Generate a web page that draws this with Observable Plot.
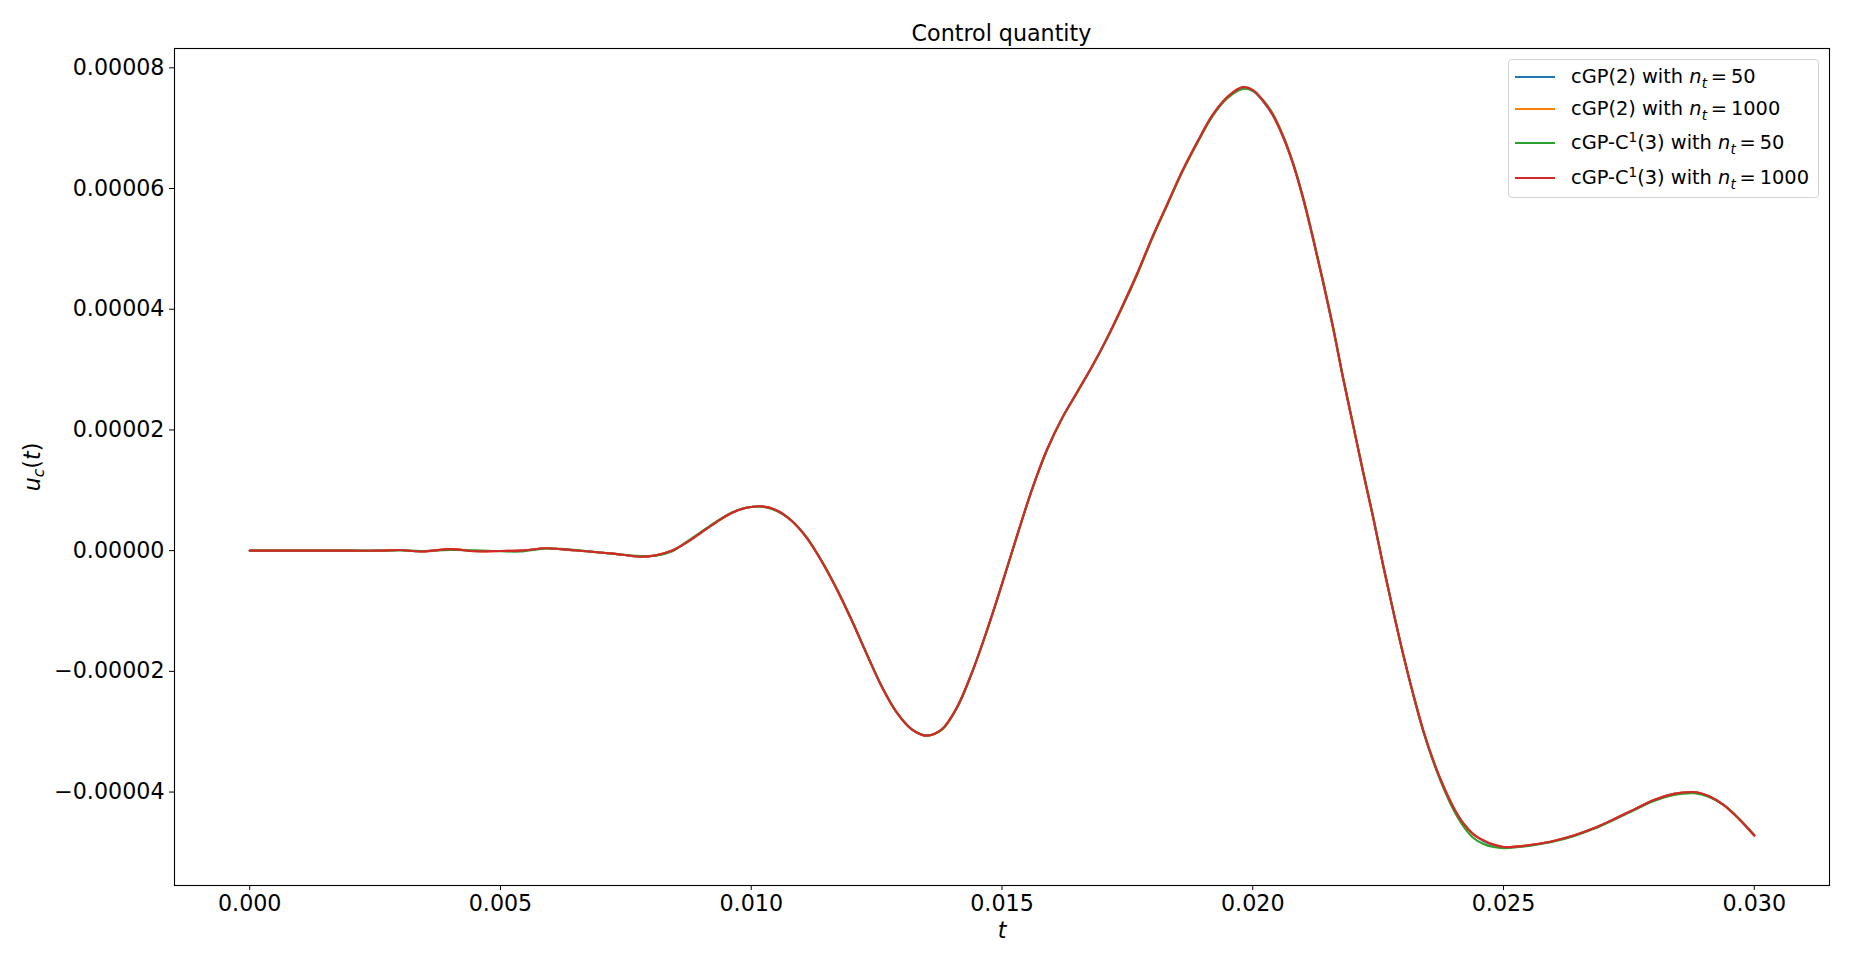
<!DOCTYPE html>
<html>
<head>
<meta charset="utf-8">
<script src="https://cdn.jsdelivr.net/npm/d3@7"></script>
<script src="https://cdn.jsdelivr.net/npm/@observablehq/plot@0.6"></script>
<style>
  html, body { margin: 0; padding: 0; background: #fff; }
  #wrap { position: relative; width: 1853px; height: 964px; font-family: "DejaVu Sans", sans-serif; color: #000; }
  #title { position: absolute; left: 174px; width: 1655px; top: 20px; text-align: center; font-size: 22.2px; line-height: 26px; }
  #chart { position: absolute; left: 0; top: 40px; }
  #legend { position: absolute; left: 1508px; top: 59px; width: 311px; height: 139px; box-sizing: border-box;
            border: 1px solid #d4d4d4; border-radius: 4px; background: rgba(255,255,255,0.85); font-size: 19.4px; }
  .row { position: absolute; left: 0; height: 24px; }
  .row .sw { position: absolute; left: 6px; width: 40px; height: 2px; top: 11px; }
  .row .lab { position: absolute; left: 62px; top: 0; white-space: nowrap; line-height: 24px; }
  .row i { font-style: italic; }
  .row sub { font-size: 70%; vertical-align: -0.35em; line-height: 0; }
  .row sup { font-size: 70%; vertical-align: 0.55em; line-height: 0; }
</style>
</head>
<body>
<div id="wrap">
  <div id="title">Control quantity</div>
  <div id="chart"></div>
  <div id="legend"></div>
</div>
<script>
// ---- data ----
const tGrid = [0, 0.001, 0.002, 0.0026, 0.003, 0.0034, 0.004, 0.0045, 0.005, 0.0054, 0.0059, 0.0062, 0.0067, 0.0072, 0.0078, 0.0081, 0.0084, 0.0087, 0.0090, 0.0093, 0.0096, 0.0099, 0.0102, 0.0105, 0.0108, 0.0111, 0.0114, 0.0117, 0.0120, 0.0123, 0.0126, 0.0129, 0.0132, 0.0135, 0.0138, 0.0141, 0.0144, 0.0147, 0.0150, 0.0153, 0.0156, 0.0159, 0.0162, 0.0165, 0.0168, 0.0171, 0.0174, 0.0177, 0.0180, 0.0183, 0.0186, 0.0189, 0.0192, 0.0195, 0.0198, 0.0200, 0.0202, 0.0204, 0.0206, 0.0208, 0.0210, 0.0212, 0.0214, 0.0216, 0.0218, 0.0220, 0.0222, 0.0224, 0.0226, 0.0228, 0.0230, 0.0232, 0.0234, 0.0236, 0.0238, 0.0240, 0.0242, 0.0244, 0.0246, 0.0248, 0.0250, 0.0253, 0.0256, 0.0260, 0.0264, 0.0268, 0.0272, 0.0276, 0.0280, 0.0284, 0.0288, 0.0291, 0.0294, 0.0297, 0.0300];

const cgp2_n50 = [0, 0, 0, 0, 0.01e-5, -0.015e-5, 0.02e-5, -0.005e-5, -0.005e-5, 0.0, 0.04e-5, 0.025e-5, -0.01e-5, -0.045e-5, -0.1e-5, -0.078e-5, -0.005e-5, 0.13e-5, 0.30e-5, 0.47e-5, 0.62e-5, 0.71e-5, 0.735e-5, 0.67e-5, 0.50e-5, 0.22e-5, -0.17e-5, -0.63e-5, -1.15e-5, -1.71e-5, -2.25e-5, -2.68e-5, -2.96e-5, -3.065e-5, -2.96e-5, -2.6e-5, -2.02e-5, -1.32e-5, -0.55e-5, 0.25e-5, 1.02e-5, 1.68e-5, 2.2e-5, 2.63e-5, 3.06e-5, 3.53e-5, 4.05e-5, 4.6e-5, 5.2e-5, 5.75e-5, 6.3e-5, 6.78e-5, 7.22e-5, 7.52e-5, 7.67e-5, 7.62e-5, 7.45e-5, 7.21e-5, 6.86e-5, 6.41e-5, 5.84e-5, 5.17e-5, 4.45e-5, 3.69e-5, 2.86e-5, 2.08e-5, 1.3e-5, 0.55e-5, -0.25e-5, -1.0e-5, -1.72e-5, -2.38e-5, -2.98e-5, -3.48e-5, -3.9e-5, -4.25e-5, -4.52e-5, -4.7e-5, -4.81e-5, -4.88e-5, -4.91e-5, -4.90e-5, -4.87e-5, -4.81e-5, -4.72e-5, -4.60e-5, -4.45e-5, -4.29e-5, -4.13e-5, -4.03e-5, -4.00e-5, -4.07e-5, -4.22e-5, -4.45e-5, -4.72e-5];

const cgp2_n1000 = [0, 0, 0, 0, 0.01e-5, -0.015e-5, 0.025e-5, -0.01e-5, -0.005e-5, 0.0, 0.04e-5, 0.025e-5, -0.01e-5, -0.045e-5, -0.1e-5, -0.075e-5, -0.005e-5, 0.13e-5, 0.30e-5, 0.47e-5, 0.62e-5, 0.71e-5, 0.735e-5, 0.67e-5, 0.50e-5, 0.22e-5, -0.17e-5, -0.63e-5, -1.15e-5, -1.71e-5, -2.25e-5, -2.68e-5, -2.96e-5, -3.065e-5, -2.96e-5, -2.6e-5, -2.02e-5, -1.32e-5, -0.55e-5, 0.25e-5, 1.02e-5, 1.68e-5, 2.2e-5, 2.63e-5, 3.06e-5, 3.53e-5, 4.05e-5, 4.6e-5, 5.2e-5, 5.75e-5, 6.3e-5, 6.78e-5, 7.22e-5, 7.52e-5, 7.68e-5, 7.63e-5, 7.46e-5, 7.22e-5, 6.87e-5, 6.42e-5, 5.85e-5, 5.18e-5, 4.46e-5, 3.7e-5, 2.86e-5, 2.08e-5, 1.3e-5, 0.55e-5, -0.25e-5, -1.0e-5, -1.72e-5, -2.38e-5, -2.98e-5, -3.48e-5, -3.9e-5, -4.25e-5, -4.52e-5, -4.7e-5, -4.8e-5, -4.87e-5, -4.91e-5, -4.90e-5, -4.87e-5, -4.81e-5, -4.72e-5, -4.60e-5, -4.45e-5, -4.29e-5, -4.13e-5, -4.03e-5, -4.00e-5, -4.07e-5, -4.22e-5, -4.45e-5, -4.72e-5];

const cgpc1_n50 = [0, 0, 0, 0, 0.005e-5, -0.005e-5, 0.01e-5, 0.005e-5, -0.01e-5, -0.015e-5, 0.035e-5, 0.03e-5, -0.005e-5, -0.05e-5, -0.09e-5, -0.085e-5, -0.02e-5, 0.14e-5, 0.31e-5, 0.48e-5, 0.63e-5, 0.71e-5, 0.73e-5, 0.66e-5, 0.50e-5, 0.23e-5, -0.16e-5, -0.62e-5, -1.14e-5, -1.70e-5, -2.24e-5, -2.68e-5, -2.96e-5, -3.06e-5, -2.97e-5, -2.61e-5, -2.03e-5, -1.33e-5, -0.56e-5, 0.24e-5, 1.01e-5, 1.67e-5, 2.19e-5, 2.62e-5, 3.05e-5, 3.52e-5, 4.03e-5, 4.58e-5, 5.18e-5, 5.73e-5, 6.28e-5, 6.76e-5, 7.20e-5, 7.50e-5, 7.65e-5, 7.62e-5, 7.47e-5, 7.24e-5, 6.89e-5, 6.44e-5, 5.87e-5, 5.2e-5, 4.48e-5, 3.72e-5, 2.88e-5, 2.1e-5, 1.32e-5, 0.57e-5, -0.23e-5, -0.99e-5, -1.72e-5, -2.39e-5, -3.0e-5, -3.5e-5, -3.93e-5, -4.29e-5, -4.57e-5, -4.76e-5, -4.86e-5, -4.91e-5, -4.93e-5, -4.91e-5, -4.88e-5, -4.82e-5, -4.73e-5, -4.61e-5, -4.46e-5, -4.30e-5, -4.15e-5, -4.05e-5, -4.02e-5, -4.08e-5, -4.22e-5, -4.44e-5, -4.71e-5];

const cgpc1_n1000 = [0, 0, 0, 0, 0.01e-5, -0.015e-5, 0.025e-5, -0.01e-5, -0.005e-5, 0.0, 0.04e-5, 0.025e-5, -0.01e-5, -0.045e-5, -0.1e-5, -0.075e-5, -0.005e-5, 0.13e-5, 0.30e-5, 0.47e-5, 0.62e-5, 0.71e-5, 0.735e-5, 0.67e-5, 0.50e-5, 0.22e-5, -0.17e-5, -0.63e-5, -1.15e-5, -1.71e-5, -2.25e-5, -2.68e-5, -2.96e-5, -3.065e-5, -2.96e-5, -2.6e-5, -2.02e-5, -1.32e-5, -0.55e-5, 0.25e-5, 1.02e-5, 1.68e-5, 2.2e-5, 2.63e-5, 3.06e-5, 3.53e-5, 4.05e-5, 4.6e-5, 5.2e-5, 5.75e-5, 6.3e-5, 6.78e-5, 7.22e-5, 7.52e-5, 7.68e-5, 7.63e-5, 7.46e-5, 7.22e-5, 6.87e-5, 6.42e-5, 5.85e-5, 5.18e-5, 4.46e-5, 3.7e-5, 2.86e-5, 2.08e-5, 1.3e-5, 0.55e-5, -0.25e-5, -1.0e-5, -1.72e-5, -2.38e-5, -2.98e-5, -3.48e-5, -3.9e-5, -4.25e-5, -4.52e-5, -4.7e-5, -4.8e-5, -4.87e-5, -4.91e-5, -4.90e-5, -4.87e-5, -4.81e-5, -4.72e-5, -4.60e-5, -4.45e-5, -4.29e-5, -4.13e-5, -4.03e-5, -4.00e-5, -4.07e-5, -4.22e-5, -4.45e-5, -4.72e-5];

const seriesNames = ["cGP(2), n_t=50", "cGP(2), n_t=1000", "cGP-C1(3), n_t=50", "cGP-C1(3), n_t=1000"];
const seriesValues = [cgp2_n50, cgp2_n1000, cgpc1_n50, cgpc1_n1000];
const seriesColors = ["#1f77b4", "#ff7f0e", "#2ca02c", "#d62728"];
const legendLabels = [
  'cGP(2) with <i>n</i><sub><i>t</i></sub>&#8201;=&#8201;50',
  'cGP(2) with <i>n</i><sub><i>t</i></sub>&#8201;=&#8201;1000',
  'cGP-C<sup>1</sup>(3) with <i>n</i><sub><i>t</i></sub>&#8201;=&#8201;50',
  'cGP-C<sup>1</sup>(3) with <i>n</i><sub><i>t</i></sub>&#8201;=&#8201;1000'
];
const xTicks = [0, 0.005, 0.010, 0.015, 0.020, 0.025, 0.030];
const yTicks = [-0.00004, -0.00002, 0, 0.00002, 0.00004, 0.00006, 0.00008];

// ---- build table ----
const rows = [];
seriesNames.forEach((name, i) => {
  tGrid.forEach((t, j) => rows.push({series: name, t, v: seriesValues[i][j]}));
});

const chart = Plot.plot({
  width: 1853,
  height: 924,
  marginLeft: 174,
  marginRight: 24,
  marginTop: 8,
  marginBottom: 79,
  style: {fontFamily: "DejaVu Sans", fontSize: "22.2px", color: "#000", background: "transparent"},
  x: {domain: [-0.0015, 0.0315]},
  y: {domain: [-5.548e-5, 8.32e-5]},
  color: {domain: seriesNames, range: seriesColors},
  marks: [
    Plot.line(rows, {x: "t", y: "v", z: "series", stroke: "series", strokeWidth: 2.1, curve: "catmull-rom"}),
    Plot.frame({stroke: "#000", strokeWidth: 1.1}),
    Plot.axisX({ticks: xTicks, tickFormat: d3.format(".3f"), tickSize: 5, tickPadding: 5, stroke: "#000",
                label: "t", labelAnchor: "center", labelOffset: 52, labelArrow: "none"}),
    Plot.axisY({ticks: yTicks, tickFormat: d3.format(".5f"), tickSize: 5, tickPadding: 5, stroke: "#000",
                label: "u_c(t)", labelAnchor: "center", labelOffset: 150, labelArrow: "none"})
  ]
});
document.getElementById("chart").appendChild(chart);

// style axis labels like matplotlib mathtext
const xl = d3.select(chart).select('g[aria-label="x-axis label"] text');
xl.text(null).append("tspan").attr("font-style", "italic").text("t");
const yl = d3.select(chart).select('g[aria-label="y-axis label"] text');
yl.text(null);
yl.append("tspan").attr("font-style", "italic").text("u");
yl.append("tspan").attr("font-style", "italic").attr("font-size", "70%").attr("baseline-shift", "-25%").text("c");
yl.append("tspan").text("(");
yl.append("tspan").attr("font-style", "italic").text("t");
yl.append("tspan").text(")");

// legend
const leg = d3.select("#legend");
const rowTops = [5, 37, 71, 106];
legendLabels.forEach((lab, i) => {
  const r = leg.append("div").attr("class", "row").style("top", rowTops[i] + "px");
  r.append("div").attr("class", "sw").style("background", seriesColors[i]);
  r.append("div").attr("class", "lab").html(lab);
});
</script>
</body>
</html>
